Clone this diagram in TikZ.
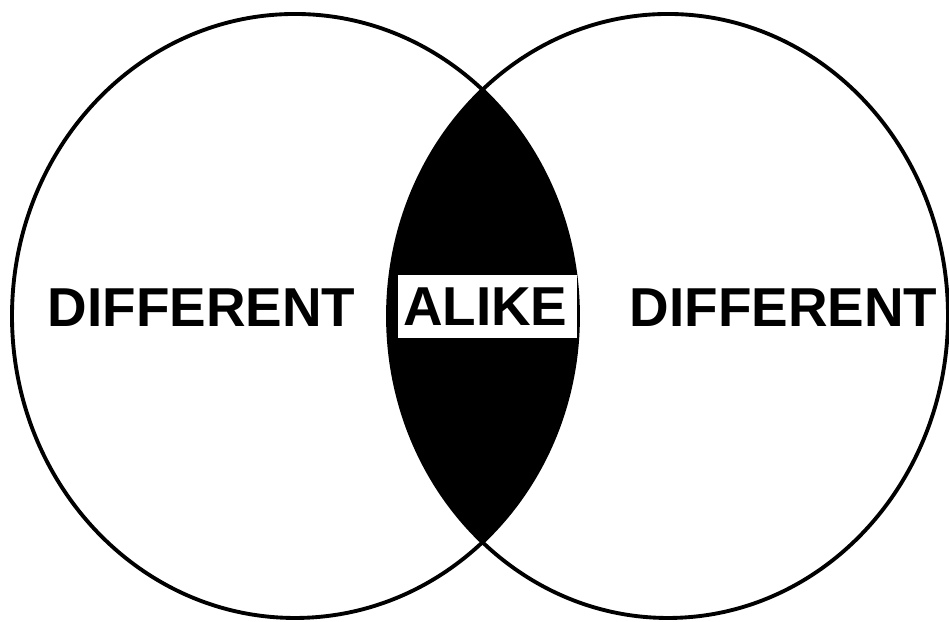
\documentclass[tikz,border=0pt]{standalone}
\usepackage{fontspec}
\setmainfont{Liberation Sans}
\usetikzlibrary{positioning}

\begin{document}
\begin{tikzpicture}[
            ring/.style={draw=black, line width=1.1pt},
            word/.style={font=\fontsize{15.6}{18}\selectfont\bfseries, inner sep=0pt},
            tag/.style={word, fill=white, minimum height=0.63cm, text width=1.69cm, align=left, inner xsep=0.05cm}
        ]
            \useasboundingbox (0,0) rectangle (9.49,6.22);

            % --- overlap (filled lens) ---
            \begin{scope}
                \clip (2.95,3.06) ellipse [x radius=2.83, y radius=3.02];
                \fill[black] (6.68,3.06) ellipse [x radius=2.80, y radius=3.02];
            \end{scope}

            % --- circles ---
            \draw[ring] (2.95,3.06) ellipse [x radius=2.83, y radius=3.02];
            \draw[ring] (6.68,3.06) ellipse [x radius=2.80, y radius=3.02];

            % --- labels ---
            \node[word] (left) at (2.015,3.145) {DIFFERENT};
            \node[word] (right) at (7.835,3.145) {DIFFERENT};
            \node[tag] (alike) at (4.875,3.155) {ALIKE};
        \end{tikzpicture}
\end{document}
